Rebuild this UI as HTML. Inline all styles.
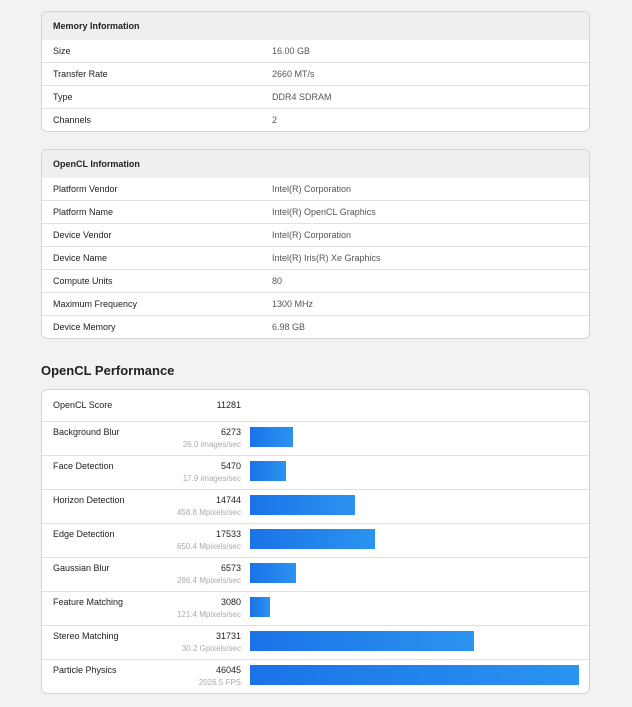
<!DOCTYPE html>
<html><head><style>
body{margin:0;background:#f2f2f2;font-family:"Liberation Sans",Arial,sans-serif;width:632px;height:707px;position:relative;overflow:hidden}
.card{position:absolute;left:41px;width:547px;background:#fff;border:1px solid #d4d4d4;border-radius:6px;overflow:hidden}
.hd{height:28px;line-height:28px;background:#efefef;padding-left:11px;font-size:9px;font-weight:bold;color:#222}
.row{height:22px;line-height:22px;border-top:1px solid #e0e0e0;font-size:9px;color:#222;position:relative;padding-left:11px}
.row span{position:absolute;left:230px;color:#555}
h2{position:absolute;left:41px;top:363px;margin:0;font-size:13px;font-weight:bold;color:#222}
.pr{height:33px;border-top:1px solid #e0e0e0;position:relative;font-size:9px;color:#222}
.pr .n{position:absolute;left:11px;top:5px}
.pr .v{position:absolute;right:348px;top:5px;text-align:right}
.pr .u{position:absolute;right:348px;top:18px;color:#aaa;font-size:8px;white-space:nowrap}
.pr .b{position:absolute;left:208px;top:5px;height:20px;background:linear-gradient(90deg,#1a73e8,#2b93f0)}
</style></head><body>
<div class="card" style="top:11px">
<div class="hd">Memory Information</div>
<div class="row" style="border-top:none">Size<span>16.00 GB</span></div>
<div class="row">Transfer Rate<span>2660 MT/s</span></div>
<div class="row">Type<span>DDR4 SDRAM</span></div>
<div class="row">Channels<span>2</span></div>
</div>
<div class="card" style="top:149px">
<div class="hd">OpenCL Information</div>
<div class="row" style="border-top:none">Platform Vendor<span>Intel(R) Corporation</span></div>
<div class="row">Platform Name<span>Intel(R) OpenCL Graphics</span></div>
<div class="row">Device Vendor<span>Intel(R) Corporation</span></div>
<div class="row">Device Name<span>Intel(R) Iris(R) Xe Graphics</span></div>
<div class="row">Compute Units<span>80</span></div>
<div class="row">Maximum Frequency<span>1300 MHz</span></div>
<div class="row">Device Memory<span>6.98 GB</span></div>
</div>
<h2>OpenCL Performance</h2>
<div class="card" style="top:389px">
<div class="pr" style="height:31px;border-top:none"><div class="n" style="top:10px">OpenCL Score</div><div class="v" style="top:10px">11281</div></div>
<div class="pr"><div class="n">Background Blur</div><div class="v">6273</div><div class="u">26.0 images/sec</div><div class="b" style="width:43px"></div></div>
<div class="pr"><div class="n">Face Detection</div><div class="v">5470</div><div class="u">17.9 images/sec</div><div class="b" style="width:36px"></div></div>
<div class="pr"><div class="n">Horizon Detection</div><div class="v">14744</div><div class="u">458.8 Mpixels/sec</div><div class="b" style="width:105px"></div></div>
<div class="pr"><div class="n">Edge Detection</div><div class="v">17533</div><div class="u">650.4 Mpixels/sec</div><div class="b" style="width:125px"></div></div>
<div class="pr"><div class="n">Gaussian Blur</div><div class="v">6573</div><div class="u">286.4 Mpixels/sec</div><div class="b" style="width:46px"></div></div>
<div class="pr"><div class="n">Feature Matching</div><div class="v">3080</div><div class="u">121.4 Mpixels/sec</div><div class="b" style="width:20px"></div></div>
<div class="pr"><div class="n">Stereo Matching</div><div class="v">31731</div><div class="u">30.2 Gpixels/sec</div><div class="b" style="width:224px"></div></div>
<div class="pr"><div class="n">Particle Physics</div><div class="v">46045</div><div class="u">2026.5 FPS</div><div class="b" style="width:329px"></div></div>
</div>
</body></html>
